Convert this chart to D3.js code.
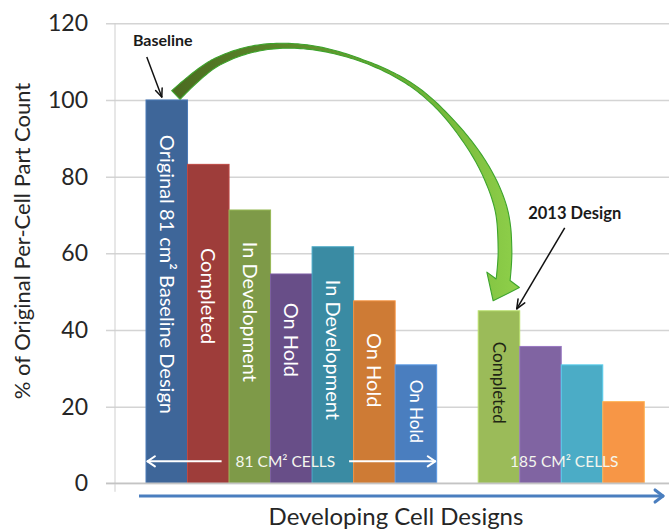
<!DOCTYPE html>
<html>
<head>
<meta charset="utf-8">
<script src="https://cdn.jsdelivr.net/npm/d3@7"></script>
<style>
  html, body { margin: 0; padding: 0; background: #fff; }
  svg { display: block; font-family: Lato, "Open Sans", sans-serif; }
</style>
</head>
<body>
<svg id="chart" width="669" height="531"></svg>
<script>
// Per-cell part count, as % of the original 81 cm² baseline design
const barKeys   = ["orig81", "done81", "dev81a", "hold81a", "dev81b", "hold81b", "hold81c",
                   "gap", "done185", "cell185b", "cell185c", "cell185d"];
const barValues = [100, 83.2, 71.3, 54.6, 61.7, 47.6, 30.9, null, 45.0, 35.7, 30.9, 21.3];
const barColors = ["#3E6699", "#9E3D3A", "#7E9A48", "#684E88", "#3A8BA3", "#CE7B35", "#4A7EBF",
                   null, "#9BBB59", "#8064A2", "#4BACC6", "#F79646"];
const barLabels = ["Original 81 cm² Baseline Design", "Completed", "In Development", "On Hold",
                   "In Development", "On Hold", "On Hold", "", "Completed", "", "", ""];
// where each rotated label begins, in % units on the value axis
const labelStarts = [90.9, 61.4, 63.0, 47.1, 53.1, 39.2, 27.0, null, 36.9, null, null, null];
const yTicks = [0, 20, 40, 60, 80, 100, 120];
const groupLabels = ["81 CM² CELLS", "185 CM² CELLS"];
const yTitle = "% of Original Per-Cell Part Count";
const xTitle = "Developing Cell Designs";

const W = 669, H = 531;
const svg = d3.select("#chart");

const y = d3.scaleLinear().domain([0, 120]).range([483.3, 23.3]);
const x = d3.scaleBand().domain(barKeys).range([146, 644.3]).padding(0);
const bw = x.bandwidth();

// gridlines + tick labels
const yAxis = svg.append("g")
  .attr("transform", "translate(106,0)")
  .call(d3.axisLeft(y).tickValues(yTicks).tickSize(-(W - 106)).tickPadding(18));
yAxis.select(".domain").remove();
yAxis.selectAll(".tick line").attr("stroke", "#D4D4D4").attr("stroke-width", 1.5);
yAxis.selectAll(".tick text")
  .attr("fill", "#262626").attr("font-size", 23).attr("font-family", "Lato, sans-serif");

// vertical axis line
svg.append("line")
  .attr("x1", 115).attr("x2", 115).attr("y1", y(120)).attr("y2", y(0) + 8.5)
  .attr("stroke", "#CFCFCF").attr("stroke-width", 1);

// bars
const bars = barKeys.map((k, i) => ({ k, v: barValues[i], c: barColors[i], label: barLabels[i], start: labelStarts[i], i }))
  .filter(d => d.v != null);

svg.append("g").selectAll("rect").data(bars).join("rect")
  .attr("x", d => x(d.k))
  .attr("y", d => y(d.v))
  .attr("width", bw)
  .attr("height", d => y(0) - y(d.v))
  .attr("fill", d => d.c)
  .attr("stroke", d => d3.color(d.c).brighter(0.5))
  .attr("stroke-width", 1);

// x axis line
svg.append("line")
  .attr("x1", 106).attr("x2", W).attr("y1", y(0)).attr("y2", y(0))
  .attr("stroke", "#C4C4C4").attr("stroke-width", 1.5);

// rotated labels inside bars
const smallLabel = new Set(["hold81c", "done185"]);
svg.append("g").selectAll("text").data(bars.filter(d => d.label)).join("text")
  .attr("transform", d => `translate(${x(d.k) + bw / 2},${y(d.start)}) rotate(90)`)
  .attr("dy", "0.36em")
  .attr("font-size", d => smallLabel.has(d.k) ? 17 : 20)
  .attr("fill", d => d.k === "done185" ? "#1f2614" : "#FFFFFF")
  .text(d => d.label);

// open-headed straight arrow
function arrow(g, x1, y1, x2, y2, color, width, headLen, headAng) {
  g.append("line").attr("x1", x1).attr("y1", y1).attr("x2", x2).attr("y2", y2)
    .attr("stroke", color).attr("stroke-width", width);
  const a = Math.atan2(y2 - y1, x2 - x1);
  [headAng, -headAng].forEach(o => {
    g.append("line").attr("x1", x2).attr("y1", y2)
      .attr("x2", x2 - headLen * Math.cos(a + o)).attr("y2", y2 - headLen * Math.sin(a + o))
      .attr("stroke", color).attr("stroke-width", width).attr("stroke-linecap", "round");
  });
}

// group span labels with arrows
const ann = svg.append("g");
const groups = [
  { label: groupLabels[0], left: x("orig81"), right: x("hold81c") + bw, shift: -6, arrows: true },
  { label: groupLabels[1], left: x("done185"), right: x("cell185d") + bw, shift: 3, arrows: false }
];
groups.forEach(gp => {
  const cx = (gp.left + gp.right) / 2 + gp.shift;
  const cy = y(0) - 22;
  const t = ann.append("text").attr("x", cx).attr("y", cy).attr("dy", "0.36em")
    .attr("text-anchor", "middle").attr("font-size", 15.5).attr("fill", "#F4F6EE").text(gp.label);
  if (gp.arrows) {
    const tw = t.node().getComputedTextLength();
    arrow(ann, cx - tw / 2 - 14, cy, gp.left + 1.5, cy, "#FFFFFF", 2, 9, 0.6);
    arrow(ann, cx + tw / 2 + 14, cy, gp.right - 1.5, cy, "#FFFFFF", 2, 9, 0.6);
  }
});

// category direction arrow under the axis
arrow(svg.append("g"), 139, 496, 663, 496, "#4A7EBF", 3, 10, 0.65);

// axis titles
svg.append("text")
  .attr("transform", `translate(22,241) rotate(-90)`)
  .attr("dy", "0.36em").attr("text-anchor", "middle")
  .attr("font-size", 22).attr("fill", "#262626").text(yTitle);
svg.append("text")
  .attr("x", 396).attr("y", 525).attr("text-anchor", "middle")
  .attr("font-size", 24).attr("fill", "#262626").text(xTitle);

// call-outs
const tipBase = { x: x("orig81") + bw * 0.38, y: y(100) - 3 };
arrow(ann, tipBase.x - 15, tipBase.y - 40, tipBase.x, tipBase.y, "#111", 1.5, 9, 0.4);
ann.append("text").attr("x", tipBase.x + 1).attr("y", tipBase.y - 51)
  .attr("text-anchor", "middle").attr("font-size", 16).attr("font-weight", "bold")
  .attr("fill", "#1a1a1a").text("Baseline");

const tip2013 = { x: x("done185") + bw - 3, y: y(45) - 2 };
arrow(ann, tip2013.x + 48, tip2013.y - 81, tip2013.x, tip2013.y, "#111", 1.5, 10, 0.4);
ann.append("text").attr("x", tip2013.x + 58).attr("y", tip2013.y - 90)
  .attr("text-anchor", "middle").attr("font-size", 16.5).attr("font-weight", "bold")
  .attr("fill", "#1a1a1a").text("2013 Design");

// curved green arrow from the baseline bar to the 2013 design
const defs = svg.append("defs");
const grad = defs.append("linearGradient").attr("id", "greenArc")
  .attr("gradientUnits", "userSpaceOnUse")
  .attr("x1", 170).attr("y1", 0).attr("x2", 520).attr("y2", 0);
[[0, "#4b6a20"], [0.35, "#5c8c2a"], [0.7, "#6fb036"], [1, "#8fd04a"]]
  .forEach(([o, c]) => grad.append("stop").attr("offset", o).attr("stop-color", c));

const arcStart = { x: x("orig81") + bw * 0.72, y: y(100) - 5 };
const arcEnd = { x: x("done185") + bw * 0.6, y: y(45) - 31 };
const arcTip = { x: x("done185") + bw * 0.36, y: y(45) - 10 };
const arcPts = [[arcStart.x, arcStart.y], [215, 63], [265, 47], [330, 51], [413, 86],
                [472, 148], [500, 205], [505, 250], [arcEnd.x, arcEnd.y]];
const arcWidths = [[0, 12], [0.12, 8], [0.25, 5], [0.42, 2.4], [0.62, 4.5], [0.8, 11], [0.9, 13.5], [1, 14]];

const tmp = svg.append("path").attr("d", d3.line().curve(d3.curveCatmullRom.alpha(0.5))(arcPts))
  .attr("fill", "none");
const node = tmp.node();
const L = node.getTotalLength();
const widthAt = d3.scaleLinear().domain(arcWidths.map(d => d[0])).range(arcWidths.map(d => d[1]));
const N = 160, left = [], right = [];
for (let i = 0; i <= N; i++) {
  const s = L * i / N;
  const p = node.getPointAtLength(s);
  const p0 = node.getPointAtLength(Math.max(0, s - 1));
  const p1 = node.getPointAtLength(Math.min(L, s + 1));
  let dx = p1.x - p0.x, dy = p1.y - p0.y;
  const len = Math.hypot(dx, dy) || 1; dx /= len; dy /= len;
  const w = widthAt(i / N) / 2;
  left.push([p.x - dy * w, p.y + dx * w]);
  right.push([p.x + dy * w, p.y - dx * w]);
}
tmp.remove();
// arrow head
let hx = arcTip.x - arcEnd.x, hy = arcTip.y - arcEnd.y;
const hl = Math.hypot(hx, hy); hx /= hl; hy /= hl;
const hw = 18;
const headL = [arcEnd.x - hy * hw, arcEnd.y + hx * hw];
const headR = [arcEnd.x + hy * hw, arcEnd.y - hx * hw];
const outline = [...left, headL, [arcTip.x, arcTip.y], headR, ...right.reverse()];
svg.append("path")
  .attr("d", d3.line()(outline) + "Z")
  .attr("fill", "url(#greenArc)")
  .attr("stroke", "#3da42c").attr("stroke-width", 1.1).attr("stroke-linejoin", "round");
</script>
</body>
</html>
